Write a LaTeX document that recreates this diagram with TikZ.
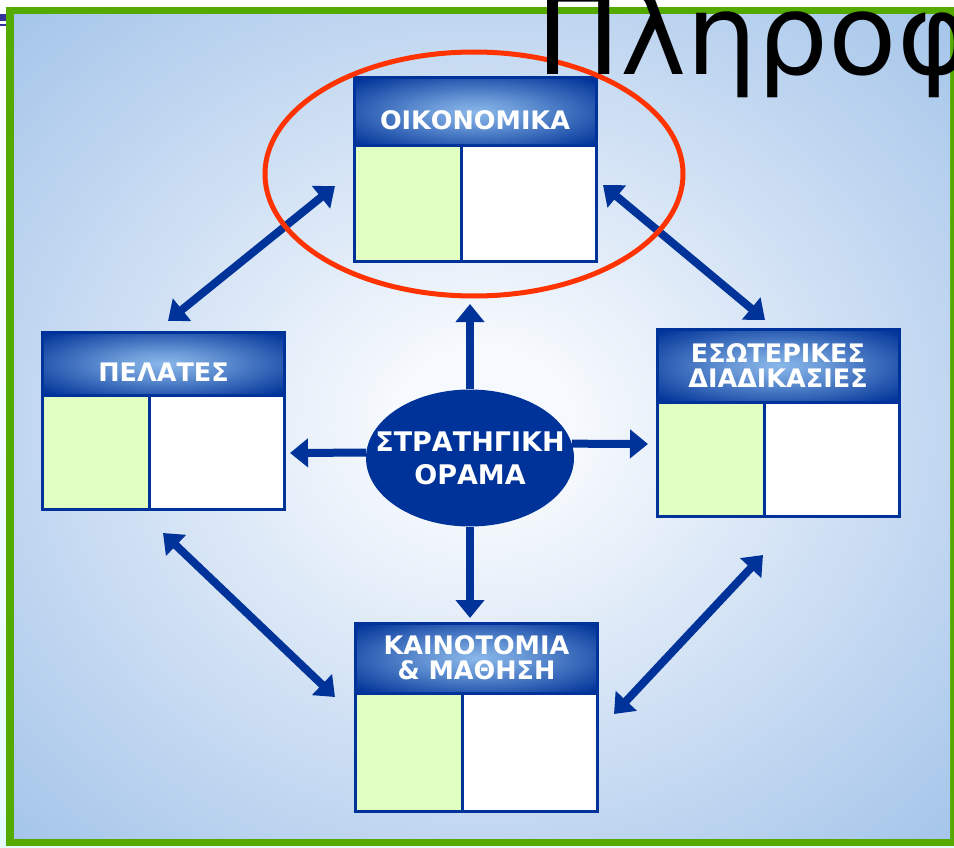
\documentclass[tikz,border=0pt]{standalone}
\usepackage{fontspec}
\setmainfont{DejaVu Sans}
\usetikzlibrary{positioning, arrows.meta, shapes.geometric}

\definecolor{navy}{HTML}{003399}
\definecolor{barblue}{HTML}{333399}
\definecolor{framegreen}{HTML}{55AA00}
\definecolor{cellgreen}{HTML}{E0FFC0}
\definecolor{alertred}{HTML}{FF3300}
\definecolor{bgedge}{HTML}{7DADE0}
\definecolor{bgmid}{HTML}{BBD3EF}
\definecolor{bgcentre}{HTML}{F6F9FD}
\definecolor{headlight}{HTML}{8AB8EA}

\pgfdeclareradialshading{panelglow}{\pgfpoint{0bp}{0bp}}{color(0bp)=(bgcentre); color(5bp)=(bgcentre); color(27bp)=(bgmid); color(50bp)=(bgedge); color(75bp)=(bgedge)}
\pgfdeclareradialshading{headglow}{\pgfpoint{0bp}{0bp}}{color(0bp)=(headlight); color(10bp)=(headlight!75!navy); color(34bp)=(navy); color(75bp)=(navy)}

\tikzset{
  head/.style={draw=navy, line width=3pt, shading=headglow, minimum width=242pt, minimum height=68pt, inner sep=0pt, outer sep=0pt, text=white, font=\bfseries\fontsize{25.5}{25}\selectfont, align=center},
  oneline/.style={text height=35pt, text depth=0pt},
  greencell/.style={draw=navy, line width=3pt, fill=cellgreen, minimum width=107pt, minimum height=115pt, inner sep=0pt, outer sep=0pt},
  whitecell/.style={greencell, fill=white, minimum width=135pt},
  vision/.style={ellipse, fill=navy, minimum width=208pt, minimum height=137pt, inner sep=0pt},
  visiontext/.style={text=white, font=\bfseries\fontsize{27}{33}\selectfont, align=center},
  arr/.style={navy, line width=8pt, -{Triangle[length=18pt,width=28pt]}},
  dblarr/.style={arr, {Triangle[length=18pt,width=28pt]}-{Triangle[length=18pt,width=28pt]}},
}

\begin{document}
\begin{tikzpicture}[x=1pt,y=-1pt]
\useasboundingbox (0,0) rectangle (954,848);
\clip (0,0) rectangle (954,848);
% slide background and frame
\shade[top color=white, bottom color=blue!8!cyan!10] (0,0) rectangle (954,848);
\fill[barblue] (0,14) rectangle (6,21);
\fill[barblue] (0,24) rectangle (6,26);
\fill[framegreen] (6,7) rectangle (970,846);
\shade[shading=panelglow] (14,15) rectangle (950,838);

% perspectives
\node[head, oneline] (oik) at (475,112) {ΟΙΚΟΝΟΜΙΚΑ};
\node[greencell, below right=0pt and 0pt of oik.south west] (oikA) {};
\node[whitecell, right=0pt of oikA] (oikB) {};

\node[head, oneline, minimum height=63pt] (pel) at (163.5,363.5) {ΠΕΛΑΤΕΣ};
\node[greencell, minimum height=114pt, below right=0pt and 0pt of pel.south west] (pelA) {};
\node[whitecell, minimum height=114pt, right=0pt of pelA] (pelB) {};

\node[head, minimum height=73pt] (eso) at (778,365.5) {ΕΣΩΤΕΡΙΚΕΣ\\ΔΙΑΔΙΚΑΣΙΕΣ};
\node[greencell, minimum height=114pt, below right=0pt and 0pt of eso.south west] (esoA) {};
\node[whitecell, minimum height=114pt, right=0pt of esoA] (esoB) {};

\node[head, minimum height=70pt] (kai) at (476.5,658) {ΚΑΙΝΟΤΟΜΙΑ\\\& ΜΑΘΗΣΗ};
\node[greencell, minimum height=118pt, below right=0pt and 0pt of kai.south west] (kaiA) {};
\node[whitecell, minimum height=118pt, right=0pt of kaiA] (kaiB) {};

% vision in the middle
\node[vision] (vis) at (470,458) {};
\node[visiontext] (visText) at (vis.center) {ΣΤΡΑΤΗΓΙΚΗ\\ΟΡΑΜΑ};

% arrow ends
\coordinate (upEnd) at (470,304);
\coordinate (downEnd) at (470,618);
\coordinate (leftEnd) at (290,453);
\coordinate (rightEnd) at (648,444);
\coordinate (nwA) at (168,321);
\coordinate (nwB) at (335,186);
\coordinate (neA) at (603,185);
\coordinate (neB) at (765,320);
\coordinate (swA) at (163,533);
\coordinate (swB) at (335,697);
\coordinate (seA) at (763,555);
\coordinate (seB) at (614,714);

\draw[arr] (vis) -- (upEnd);
\draw[arr] (vis) -- (downEnd);
\draw[arr] (vis.177) -- (leftEnd);
\draw[arr] (vis.8) -- (rightEnd);
\draw[dblarr] (nwA) -- (nwB);
\draw[dblarr] (neA) -- (neB);
\draw[dblarr] (swA) -- (swB);
\draw[dblarr] (seA) -- (seB);

% highlight
\draw[alertred, line width=5pt] (474,174) ellipse [x radius=209, y radius=122];

\node[anchor=base west, inner sep=0pt, font=\fontsize{112}{112}\selectfont] (title) at (536,75) {Πληροφ};
\end{tikzpicture}
\end{document}
